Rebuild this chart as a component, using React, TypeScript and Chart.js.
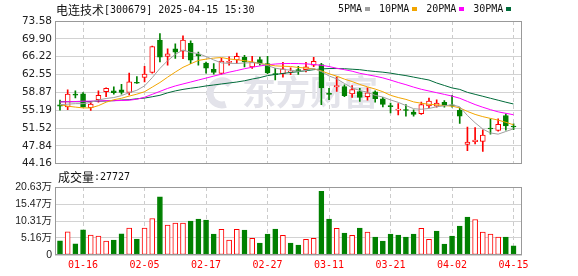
import React, { useEffect, useRef } from 'react';
import { Chart, registerables } from 'chart.js';

Chart.register(...registerables);

// ---------- data ----------
const stockName = '电连技术';
const stockInfo = '[300679] 2025-04-15 15:30';
const volumeTitle = '成交量';
const lastVolume = '27727';
const watermarkText = '东方财富';

const dates = [
  '01-13', '01-14', '01-15', '01-16', '01-17', '01-20', '01-21', '01-22', '01-23', '01-24',
  '01-27', '02-05', '02-06', '02-07', '02-10', '02-11', '02-12', '02-13', '02-14', '02-17',
  '02-18', '02-19', '02-20', '02-21', '02-24', '02-25', '02-26', '02-27', '02-28', '03-03',
  '03-04', '03-05', '03-06', '03-07', '03-10', '03-11', '03-12', '03-13', '03-14', '03-17',
  '03-18', '03-19', '03-20', '03-21', '03-24', '03-25', '03-26', '03-27', '03-28', '03-31',
  '04-01', '04-02', '04-03', '04-07', '04-08', '04-09', '04-10', '04-11', '04-14', '04-15',
];
const axisDates = ['01-16', '02-05', '02-17', '02-27', '03-11', '03-21', '04-02', '04-15'];

const openPrices = [
  56.3, 55.87, 58.5, 58.56, 55.72, 57.35, 59.03, 59.2, 59.38, 58.83,
  60.95, 61.95, 62.97, 69.66, 66.28, 67.84, 67.35, 68.97, 66.78, 64.92,
  63.64, 62.77, 65.06, 65.57, 66.07, 64.1, 65.61, 64.79, 62.72, 62.72,
  63.03, 63.54, 63.54, 64.45, 64.59, 58.6, 59.99, 60.05, 58.56, 59.03,
  57.96, 58.97, 57.55, 56.07, 55.22, 55.26, 54.81, 54.45, 56.07, 56.0,
  56.8, 56.19, 55.18, 48.12, 48.72, 48.77, 51.46, 51.0, 54.1, 51.87,
];
const closePrices = [
  56.0, 58.5, 58.3, 55.83, 56.43, 58.26, 59.72, 58.8, 58.83, 61.06,
  60.75, 62.62, 68.3, 66.13, 66.82, 67.15, 69.66, 65.5, 66.38, 63.84,
  62.97, 65.33, 65.26, 66.28, 65.12, 65.12, 64.86, 62.89, 62.52, 63.74,
  63.23, 63.23, 64.15, 65.26, 59.78, 58.46, 60.29, 58.2, 59.44, 57.8,
  58.77, 57.55, 56.39, 55.93, 55.42, 55.12, 54.3, 56.33, 57.08, 56.68,
  56.07, 56.07, 53.96, 48.62, 49.03, 50.04, 51.32, 52.27, 51.93, 51.73,
];
const highPrices = [
  57.3, 59.38, 59.2, 58.8, 57.04, 59.17, 59.78, 60.0, 60.53, 62.83,
  62.1, 64.25, 68.4, 71.0, 67.84, 68.85, 70.54, 69.5, 67.15, 65.12,
  64.79, 65.9, 66.17, 66.95, 66.48, 66.28, 66.13, 66.28, 63.84, 65.06,
  63.94, 64.25, 65.06, 66.07, 64.86, 59.72, 62.0, 60.4, 60.29, 59.72,
  59.78, 59.17, 57.85, 56.64, 56.53, 56.33, 55.26, 56.88, 57.69, 57.35,
  57.15, 58.26, 55.66, 51.73, 51.6, 51.16, 53.43, 53.39, 54.45, 52.38,
];
const lowPrices = [
  55.2, 55.32, 57.7, 55.8, 55.12, 56.84, 57.96, 58.5, 58.5, 58.36,
  60.7, 61.0, 62.8, 65.12, 64.45, 65.87, 65.81, 64.79, 64.45, 62.83,
  62.62, 62.62, 64.45, 64.86, 64.1, 63.78, 64.45, 62.72, 61.41, 62.02,
  62.52, 62.56, 63.09, 64.15, 56.33, 57.35, 59.07, 57.96, 57.85, 57.0,
  57.25, 56.84, 55.87, 54.61, 54.2, 53.96, 53.96, 54.3, 55.72, 55.79,
  55.79, 55.83, 52.48, 46.86, 48.22, 46.7, 50.25, 50.85, 51.06, 51.16,
];

const ma5 = [
  56.33, 56.43, 56.54, 56.54, 56.8, 57.3, 57.6, 57.8, 58.2, 58.8,
  59.3, 60.2, 61.9, 63.8, 65.4, 66.7, 67.6, 67.1, 66.85, 66.25,
  65.55, 64.95, 64.85, 64.83, 64.92, 65.0, 64.85, 64.4, 63.85, 63.6,
  63.45, 63.2, 63.4, 63.8, 63.15, 62.25, 61.65, 60.7, 59.8, 59.25,
  58.9, 58.25, 57.9, 57.3, 56.8, 56.15, 55.5, 55.38, 55.55, 55.9,
  56.1, 56.3, 55.9, 54.1, 52.6, 51.3, 50.5, 50.25, 50.8, 51.35,
];
const ma10 = [
  56.33, 56.03, 55.83, 55.66, 55.66, 56.13, 56.84, 57.35, 57.65, 58.1,
  58.5, 59.0, 59.95, 60.9, 62.0, 63.05, 64.03, 64.75, 65.45, 65.72,
  65.93, 66.05, 65.75, 65.6, 65.4, 65.15, 64.8, 64.6, 64.33, 64.25,
  64.2, 64.0, 63.88, 63.72, 63.3, 62.7, 62.2, 61.6, 61.1, 60.5,
  60.0, 59.55, 59.0, 58.26, 57.8, 57.42, 56.9, 56.62, 56.4, 56.3,
  56.14, 56.03, 55.66, 54.94, 54.32, 53.86, 53.5, 53.15, 52.69, 52.18,
];
const ma20 = [
  56.88, 56.94, 56.98, 57.05, 57.05, 57.09, 57.15, 57.15, 57.19, 57.25,
  57.45, 57.86, 58.46, 59.07, 59.68, 60.19, 60.6, 61.0, 61.41, 61.81,
  62.22, 62.62, 63.03, 63.37, 63.74, 64.05, 64.31, 64.55, 64.71, 64.8,
  64.82, 64.8, 64.75, 64.61, 64.45, 64.19, 63.84, 63.54, 63.23, 62.8,
  62.5, 62.2, 61.85, 61.4, 60.9, 60.45, 59.95, 59.5, 59.15, 58.8,
  58.45, 58.1, 57.65, 57.0, 56.35, 55.8, 55.3, 54.85, 54.55, 54.25,
];
const ma30 = [
  56.94, 56.94, 56.94, 56.94, 57.0, 57.05, 57.09, 57.15, 57.29, 57.35,
  57.55, 57.69, 57.96, 58.26, 58.77, 59.17, 59.48, 59.72, 59.93, 60.19,
  60.39, 60.6, 60.8, 61.0, 61.26, 61.61, 61.91, 62.32, 62.56, 62.77,
  62.97, 63.13, 63.33, 63.54, 63.7, 63.78, 63.78, 63.74, 63.64, 63.54,
  63.33, 63.17, 63.03, 62.83, 62.56, 62.32, 62.01, 61.71, 61.41, 60.8,
  60.29, 59.78, 59.48, 58.87, 58.46, 58.06, 57.65, 57.25, 56.84, 56.47,
];

// volume in 万 (10k lots)
const volumes = [
  4.33, 7.05, 3.42, 7.65, 6.04, 5.74, 4.23, 4.53, 6.44, 8.16,
  4.83, 8.16, 11.08, 17.62, 9.06, 9.67, 9.67, 10.27, 10.88, 10.57,
  6.34, 7.75, 4.53, 7.75, 7.55, 5.04, 3.63, 6.34, 7.85, 5.94,
  3.63, 3.02, 4.73, 5.04, 19.33, 10.88, 8.06, 6.65, 5.94, 8.16,
  6.95, 5.44, 4.23, 6.34, 6.04, 5.44, 6.34, 8.06, 4.73, 7.25,
  3.32, 5.74, 8.76, 11.48, 10.77, 6.95, 6.34, 5.44, 5.44, 2.7727,
];
// 1 = red (up) bar, 0 = green (down) bar
const volumeUp = [
  0, 1, 0, 0, 1, 1, 1, 0, 0, 1,
  0, 1, 1, 0, 1, 1, 1, 0, 0, 0,
  0, 1, 1, 1, 0, 1, 0, 0, 0, 1,
  0, 0, 1, 1, 0, 0, 1, 0, 1, 0,
  1, 0, 0, 0, 0, 0, 0, 1, 1, 0,
  0, 0, 0, 0, 1, 1, 1, 1, 0, 0,
];

const priceTicks = [44.16, 47.84, 51.52, 55.19, 58.87, 62.55, 66.22, 69.9, 73.58];
const priceTickLabels = ['44.16', '47.84', '51.52', '55.19', '58.87', '62.55', '66.22', '69.90', '73.58'];
const volumeTicks = [0, 5.16, 10.31, 15.47, 20.63];
const volumeTickLabels = ['0', '5.16万', '10.31万', '15.47万', '20.63万'];

const maNames = ['5PMA', '10PMA', '20PMA', '30PMA'];

// ---------- styles ----------
const UP = '#ff0000';
const DOWN = '#008000';
const MA_COLORS = ['#a0a0a0', '#f2a500', '#ff00ff', '#006b3a'];
const GRID = '#d2d2d2';
const FRAME = '#999999';
const X_MIN = -0.65;
const X_MAX = 60.1;
const TICK_FONT = { family: '"DejaVu Sans", sans-serif', size: 10.5 };
const VOL_TICK_FONT = { family: '"Liberation Sans", "Noto Sans CJK SC", sans-serif', size: 10.5 };
const MONO = '"DejaVu Sans Mono", monospace';
const CJK = '"Noto Sans CJK SC", sans-serif';

const idx = dates.map((_, i) => i);
const axisIdx = axisDates.map((d) => dates.indexOf(d));

function drawFrame(chart: any) {
  const { ctx, chartArea: a } = chart;
  const l = Math.round(a.left);
  const t = Math.round(a.top);
  const r = Math.round(a.right);
  const b = Math.round(a.bottom);
  ctx.save();
  ctx.strokeStyle = FRAME;
  ctx.lineWidth = 1;
  ctx.strokeRect(l + 0.5, t + 0.5, r - l - 1, b - t - 1);
  ctx.restore();
}

function xScale(showLabels: boolean) {
  return {
    type: 'linear',
    min: X_MIN,
    max: X_MAX,
    offset: false,
    afterBuildTicks: (s: any) => {
      s.ticks = axisIdx.map((v) => ({ value: v }));
    },
    afterFit: (s: any) => {
      s.height = showLabels ? 21 : 0;
    },
    ticks: {
      display: showLabels,
      autoSkip: false,
      maxRotation: 0,
      padding: 4,
      color: UP,
      font: { family: MONO, size: 10 },
      callback: (v: number) => dates[v],
    },
    grid: { color: '#cccccc', drawTicks: false, offset: false },
    border: { display: false, dash: [4, 3] },
  };
}

export default function App() {
  const priceRef = useRef<HTMLCanvasElement>(null);
  const volRef = useRef<HTMLCanvasElement>(null);

  useEffect(() => {
    const isUp = idx.map((i) => closePrices[i] >= openPrices[i]);
    const maSeries = [ma5, ma10, ma20, ma30];

    const pricePlugin = {
      id: 'priceDeco',
      beforeDatasetsDraw(chart: any) {
        const { ctx } = chart;
        ctx.save();
        ctx.fillStyle = '#e3e3ea';
        ctx.strokeStyle = '#e3e3ea';
        ctx.font = `bold 34px ${CJK}`;
        ctx.textBaseline = 'middle';
        ctx.textAlign = 'left';
        ctx.fillText(watermarkText, 242, 92);
        ctx.lineWidth = 7;
        ctx.beginPath();
        ctx.arc(222, 93, 12, 0.4 * Math.PI, 1.75 * Math.PI);
        ctx.stroke();
        ctx.restore();
      },
      afterDraw(chart: any) {
        drawFrame(chart);
        const { ctx } = chart;
        ctx.save();
        ctx.textBaseline = 'middle';
        ctx.textAlign = 'left';
        ctx.fillStyle = '#111';
        ctx.font = `12px ${CJK}`;
        ctx.fillText(stockName, 56, 10.5);
        const w = ctx.measureText(stockName).width;
        ctx.font = `10px ${MONO}`;
        ctx.fillText(stockInfo, 56 + w, 10.5);
        let x = 338;
        maNames.forEach((n, k) => {
          ctx.fillStyle = '#111';
          ctx.font = `10px ${MONO}`;
          ctx.fillText(n, x, 9);
          const tw = ctx.measureText(n).width;
          ctx.fillStyle = MA_COLORS[k];
          ctx.fillRect(Math.round(x + tw + 3), 7, 5, 4);
          x = x + tw + 17;
        });
        ctx.restore();
      },
    };

    const c1 = new Chart(priceRef.current as HTMLCanvasElement, {
      type: 'bar',
      data: {
        datasets: [
          ...maSeries.map((arr, k) => ({
            type: 'line',
            label: maNames[k],
            data: arr.map((v, i) => ({ x: i, y: v })),
            borderColor: MA_COLORS[k],
            borderWidth: 1,
            pointRadius: 0,
            tension: 0,
            order: 0,
          })),
          {
            type: 'bar',
            label: 'K',
            data: idx.map((i) => ({ x: i, y: [openPrices[i], closePrices[i]] })),
            backgroundColor: idx.map((i) => (isUp[i] ? '#ffffff' : DOWN)),
            borderColor: idx.map((i) => (isUp[i] ? UP : DOWN)),
            borderWidth: 1,
            borderSkipped: false,
            barThickness: 5,
            minBarLength: 1,
            grouped: false,
            order: 1,
          },
          {
            type: 'bar',
            label: 'wick',
            data: idx.map((i) => ({ x: i, y: [lowPrices[i], highPrices[i]] })),
            backgroundColor: idx.map((i) => (isUp[i] ? UP : DOWN)),
            borderWidth: 0,
            barThickness: 1,
            grouped: false,
            order: 2,
          },
        ],
      } as any,
      options: {
        responsive: false,
        animation: false,
        events: [],
        layout: { padding: { top: 21, left: 0, right: 56, bottom: 8 } },
        plugins: { legend: { display: false }, tooltip: { enabled: false } },
        scales: {
          x: xScale(false),
          y: {
            type: 'linear',
            position: 'left',
            min: 44.16,
            max: 73.58,
            beginAtZero: false,
            afterBuildTicks: (s: any) => {
              s.ticks = priceTicks.map((v) => ({ value: v }));
            },
            afterFit: (s: any) => {
              s.width = 55;
            },
            ticks: {
              autoSkip: false,
              padding: 3,
              color: '#222',
              font: TICK_FONT,
              callback: (_v: number, i: number) => priceTickLabels[i],
            },
            grid: { color: GRID, drawTicks: false },
            border: { display: false },
          },
        },
      } as any,
      plugins: [pricePlugin],
    });

    const volPlugin = {
      id: 'volDeco',
      afterDraw(chart: any) {
        drawFrame(chart);
        const { ctx } = chart;
        ctx.save();
        ctx.textBaseline = 'middle';
        ctx.textAlign = 'left';
        ctx.fillStyle = '#111';
        ctx.font = `12px ${CJK}`;
        ctx.fillText(volumeTitle, 58, 9);
        const w = ctx.measureText(volumeTitle).width;
        ctx.font = `10px ${MONO}`;
        ctx.fillText(':' + lastVolume, 58 + w, 9);
        ctx.restore();
      },
    };

    const c2 = new Chart(volRef.current as HTMLCanvasElement, {
      type: 'bar',
      data: {
        datasets: [
          {
            type: 'bar',
            label: 'VOL',
            data: idx.map((i) => ({ x: i, y: volumes[i] })),
            backgroundColor: idx.map((i) => (volumeUp[i] ? '#ffffff' : DOWN)),
            borderColor: idx.map((i) => (volumeUp[i] ? UP : DOWN)),
            borderWidth: 1,
            borderSkipped: false,
            barThickness: 5,
            grouped: false,
          },
        ],
      } as any,
      options: {
        responsive: false,
        animation: false,
        events: [],
        layout: { padding: { top: 19, left: 0, right: 56, bottom: 0 } },
        plugins: { legend: { display: false }, tooltip: { enabled: false } },
        scales: {
          x: xScale(true),
          y: {
            type: 'linear',
            position: 'left',
            min: 0,
            max: 20.63,
            beginAtZero: true,
            afterBuildTicks: (s: any) => {
              s.ticks = volumeTicks.map((v) => ({ value: v }));
            },
            afterFit: (s: any) => {
              s.width = 55;
            },
            ticks: {
              autoSkip: false,
              padding: 3,
              color: '#222',
              font: VOL_TICK_FONT,
              callback: (_v: number, i: number) => volumeTickLabels[i],
            },
            grid: { color: GRID, drawTicks: false },
            border: { display: false },
          },
        },
      } as any,
      plugins: [volPlugin],
    });

    return () => {
      c1.destroy();
      c2.destroy();
    };
  }, []);

  return (
    <div style={{ position: 'absolute', left: 0, top: 0, width: 578, height: 276, background: '#fff', overflow: 'hidden' }}>
      <canvas ref={priceRef} width={578} height={173} style={{ position: 'absolute', left: 0, top: 0 }} />
      <canvas ref={volRef} width={578} height={108} style={{ position: 'absolute', left: 0, top: 168 }} />
    </div>
  );
}
